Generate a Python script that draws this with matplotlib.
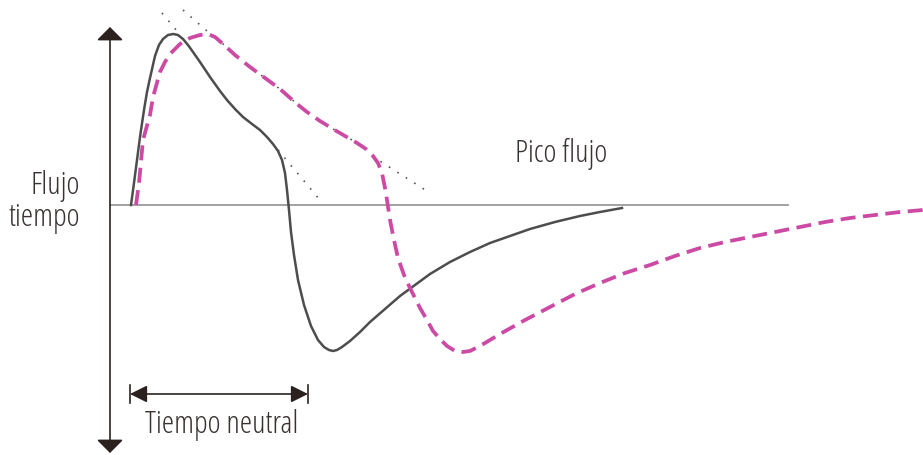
import numpy as np
import matplotlib
matplotlib.use("Agg")
import matplotlib.pyplot as plt
from matplotlib.patches import FancyArrowPatch

plt.rcParams['font.family'] = ['Open Sans', 'DejaVu Sans']

# flujo-tiempo: t (tiempo, unidades arbitrarias), q (flujo, + inspiración / - espiración)
t_normal = [21, 24, 27, 30, 34, 37, 40, 45, 49, 53, 58, 63, 68, 73, 78, 83, 90, 100,
            110, 117, 125, 133, 142, 150, 157, 163, 168, 172, 175, 177, 179, 181, 184,
            188, 194, 201, 208, 214, 219, 223, 227, 232, 240, 250, 260, 275, 290, 305,
            320, 340, 360, 380, 400, 420, 445, 470, 490, 512]
q_normal = [0, 22, 45, 68, 95, 113, 127, 149, 160, 166, 170, 171, 170, 166, 160, 153, 143, 128,
            114, 105, 96, 88, 81, 75, 68, 61, 54, 45, 32, 15, -5, -27, -50,
            -75, -100, -121, -135, -142, -145, -146, -145, -142, -136, -127, -117, -104, -91, -80,
            -69, -57, -47, -38, -31, -24, -17, -11, -7, -3]

t_alt = [26, 29, 33, 40, 43, 50, 55, 60, 70, 80, 90, 98, 105, 113, 125, 140, 155, 170,
         187, 197, 210, 223, 235, 247, 256, 263, 268, 272, 275, 277, 280, 284, 288, 294,
         300, 310, 317, 323, 330, 337, 345, 353, 360, 368, 375, 390, 415, 440, 465, 490,
         515, 540, 565, 590, 615, 640, 665, 690, 715, 740, 765, 790, 813]
q_alt = [0, 22, 65, 90, 108, 133, 143, 151, 161, 167, 170, 171, 168, 161, 150, 138, 127, 116,
         101, 93, 84, 76, 69, 62, 56, 49, 42, 32, 17, 5, -15, -35, -53, -70,
         -83, -103, -115, -126, -134, -141, -146, -147, -146, -142, -138, -129, -115, -102, -89, -78,
         -68, -60, -51, -43, -37, -32, -27, -22, -17, -13, -10, -7, -5]

# tramos punteados de las tangentes (extremos)
tangentes = [((52, 192), (67, 174)),
             ((168, 55), (210, 5)),
             ((73, 195), (105, 167)),
             ((262, 49), (320, 12))]
guia_alt = (105, 262)   # tramo en que la guia punteada sigue a la curva discontinua

t_base_fin = 678
neutral = (20, 198)   # inicio / fin del tiempo neutral
q_neutral = -189

INK = "#2b2220"
GRIS = "#4d4d4d"
MAGENTA = "#cc4aa3"
PUNTOS = "#555555"

fig = plt.figure(figsize=(9.23, 4.55), dpi=100)
ax = fig.add_axes([0, 0, 1, 1])
ax.set_xlim(-110, 813)
ax.set_ylim(-250, 205)
ax.axis("off")

# linea base y eje vertical con flechas
ax.plot([0, t_base_fin], [0, 0], color="#9a9a9a", lw=1.3, zorder=1)
ax.add_patch(FancyArrowPatch((0, -248), (0, 178), arrowstyle="<|-|>,head_length=1,head_width=1",
                             mutation_scale=8.2, color=INK, lw=1.2, shrinkA=0, shrinkB=0, zorder=3))

# tangentes punteadas
for (x0, y0), (x1, y1) in tangentes:
    ax.plot([x0, x1], [y0, y1], color=PUNTOS, lw=1.2, ls=(0, (1, 5)), zorder=1)
ta = np.array(t_alt)
sel = (ta >= guia_alt[0]) & (ta <= guia_alt[1])
ax.plot(ta[sel], np.array(q_alt)[sel], color=PUNTOS, lw=1.2, ls=(0, (1, 5)), zorder=1)

# curvas
ax.plot(t_normal, q_normal, color=GRIS, lw=1.8, solid_joinstyle="round", zorder=2)
ax.plot(t_alt, q_alt, color=MAGENTA, lw=2.7, dashes=(4, 2), zorder=2)

# tiempo neutral
ax.add_patch(FancyArrowPatch((neutral[0], q_neutral), (neutral[1], q_neutral),
                             arrowstyle="<|-|>,head_length=2,head_width=1",
                             mutation_scale=5.2, color=INK, lw=1.2, shrinkA=0, shrinkB=0, zorder=3))
for x in neutral:
    ax.plot([x, x], [q_neutral + 9, q_neutral - 9], color=INK, lw=1.2)

txt = dict(color="#3a3231", fontsize=22.5, fontstretch="condensed", fontweight="light")
ax.text(-30, 3, "Flujo\ntiempo", ha="right", va="center", linespacing=1.0, multialignment="right", **txt)
ax.text(451, 51, "Pico flujo", ha="center", va="center", **txt)
ax.text(112, -220, "Tiempo neutral", ha="center", va="center", **txt)

fig.savefig("out.png", dpi=100)
